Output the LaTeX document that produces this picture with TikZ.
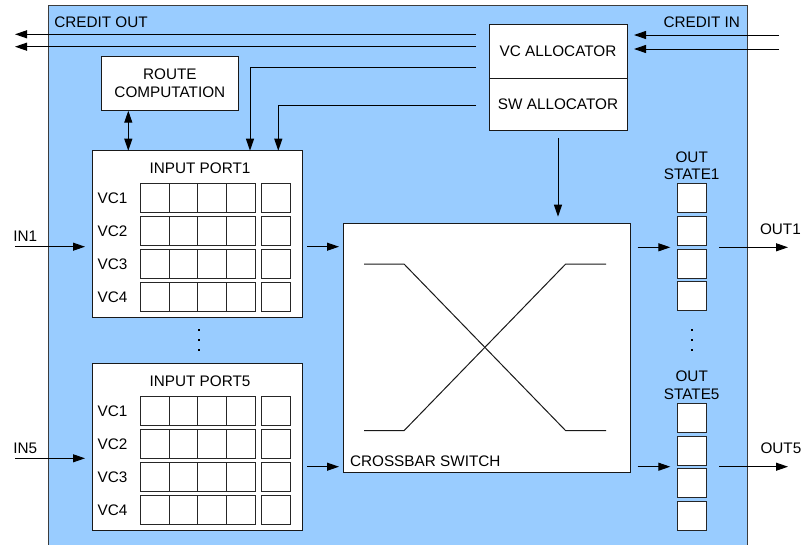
\documentclass[tikz,border=0pt]{standalone}
\usepackage{fontspec}
\setmainfont{Liberation Sans}
\usetikzlibrary{arrows.meta}

\definecolor{routerblue}{HTML}{99CCFF}
\definecolor{frame}{HTML}{3C3C3C}

\tikzset{
  lbl/.style={inner sep=0pt, outer sep=0pt, font=\fontsize{15.3}{17.7}\selectfont},
  box/.style={draw=black!90, fill=white, line width=1pt, inner sep=0pt, outer sep=0pt,
              anchor=north west, font=\fontsize{15.3}{18}\selectfont, align=center},
  cell/.style={draw=black!85, fill=white, line width=1pt, inner sep=0pt, outer sep=0pt,
               minimum height=29pt, anchor=north west},
  sig/.style={line width=1pt, -{Triangle[length=12pt,width=8pt]}},
  dblsig/.style={line width=1pt, {Triangle[length=12pt,width=8pt]}-{Triangle[length=12pt,width=8pt]}},
  wire/.style={line width=1pt, draw=black!90},
  dot/.style={fill=black}
}

\begin{document}
\begin{tikzpicture}[x=1pt, y=-1pt]
\clip (0,0) rectangle (803,544);

% router outline
\node[draw=frame, fill=routerblue, line width=1pt, inner sep=0pt, outer sep=0pt,
      minimum width=699pt, minimum height=560pt, anchor=north west] (router) at (48,5) {};

% credit labels
\node[lbl, anchor=base west] (creditout) at (54.3,27.3) {CREDIT OUT};
\node[lbl, anchor=base east] (creditin) at (740,27.3) {CREDIT IN};

% allocators
\node[box, minimum width=138pt, minimum height=54pt] (vc) at (489,24) {VC ALLOCATOR};
\node[box, minimum width=138pt, minimum height=52pt] (sw) at (489,78) {SW ALLOCATOR};

% route computation
\node[box, minimum width=137.7pt, minimum height=54pt] (route) at (101,56.7) {ROUTE\\COMPUTATION};

% input ports with their virtual-channel buffers
\foreach \p/\dy in {1/0, 5/213} {
  \node[box, minimum width=210.3pt, minimum height=166.3pt] (port\p) at (92,150.7+\dy) {};
  \node[lbl] (title\p) at (200,168+\dy) {INPUT PORT\p};
  \foreach \r in {1,...,4} {
    \foreach \c in {1,...,4} {
      \node[cell, minimum width=28.7pt] (p\p-\r-\c) at ({140.3+28.7*(\c-1)},{183.5+33*(\r-1)+\dy}) {};
    }
    \node[cell, minimum width=28.3pt] (p\p-\r-5) at (261.7,{183.5+33*(\r-1)+\dy}) {};
    \node[lbl, anchor=west] (vc\p-\r) at (97.7,{198+33*(\r-1)+\dy}) {VC\r};
  }
}

% crossbar switch
\node[box, minimum width=287pt, minimum height=249.3pt] (xbar) at (343.7,223) {};
\node[lbl, anchor=west] (xbarlbl) at (350,461.3) {CROSSBAR SWITCH};
\draw[wire] (364,264) -- (404,264) -- (565.7,430.7) -- (606,430.7);
\draw[wire] (364,430.7) -- (404,430.7) -- (565.7,264) -- (606,264);

% output state registers
\foreach \o/\dy in {1/0, 5/219.7} {
  \node[lbl, align=center] (oslbl\o) at (691.7,{165.8+\dy}) {OUT\\STATE\o};
  \foreach \r in {1,...,4} {
    \node[cell, minimum width=29pt] (os\o-\r) at (677.3,{183.6+32.7*(\r-1)+\dy}) {};
  }
}

% vertical ellipses
\foreach \yy in {330,340,350} {
  \fill[dot] (197.8,\yy-1.2) rectangle ++(2.5,2.5);
  \fill[dot] (690.6,\yy-1.2) rectangle ++(2.5,2.5);
}

% free ends of the external signals
\coordinate (co1) at (15,34.3);
\coordinate (co2) at (15,46.7);
\coordinate (ci1) at (779,35);
\coordinate (ci2) at (779,49);
\coordinate (in1) at (15,246.7);
\coordinate (in5) at (15,458.3);
\coordinate (out1) at (788,247.3);
\coordinate (out5) at (788,466.7);
\coordinate (vcbus) at (250,67.3);
\coordinate (swbus) at (278.3,105.3);
\coordinate (rcbus) at (128.3,130);

% credits
\draw[sig, shorten <=13pt] (co1 -| vc.west) -- (co1);
\draw[sig, shorten <=13pt] (co2 -| vc.west) -- (co2);
\draw[sig, shorten >=7pt] (ci1) -- (ci1 -| vc.east);
\draw[sig, shorten >=7pt] (ci2) -- (ci2 -| vc.east);

% allocator grants to the input port
\draw[sig, shorten <=13pt] (vcbus -| vc.west) -- (vcbus) -- (vcbus |- port1.north);
\draw[sig, shorten <=13pt] (swbus -| sw.west) -- (swbus) -- (swbus |- port1.north);
\draw[dblsig] (rcbus |- route.south) -- (rcbus |- port1.north);
\draw[sig, shorten <=8pt, shorten >=6.3pt] (sw.south) -- (sw.south |- xbar.north);

% data path
\node[lbl, anchor=base west] (in1lbl) at (13.3,241) {IN1};
\node[lbl, anchor=base west] (in5lbl) at (13.3,453.3) {IN5};
\node[lbl, anchor=base west] (out1lbl) at (760,234.3) {OUT1};
\node[lbl, anchor=base west] (out5lbl) at (760.5,453.3) {OUT5};

\draw[sig, shorten >=7pt] (in1) -- (in1 -| port1.west);
\draw[sig, shorten >=7pt] (in5) -- (in5 -| port5.west);
\draw[sig, shorten <=5pt, shorten >=4.7pt] (in1 -| port1.east) -- (in1 -| xbar.west);
\draw[sig, shorten <=5pt, shorten >=4.7pt] (out5 -| port5.east) -- (out5 -| xbar.west);
\draw[sig, shorten <=7pt, shorten >=7pt] (out1 -| xbar.east) -- (out1 -| os1-1.west);
\draw[sig, shorten <=7pt, shorten >=7pt] (out5 -| xbar.east) -- (out5 -| os5-1.west);
\draw[sig, shorten <=13pt] (out1 -| os1-1.east) -- (out1);
\draw[sig, shorten <=13pt] (out5 -| os5-1.east) -- (out5);
\end{tikzpicture}
\end{document}
